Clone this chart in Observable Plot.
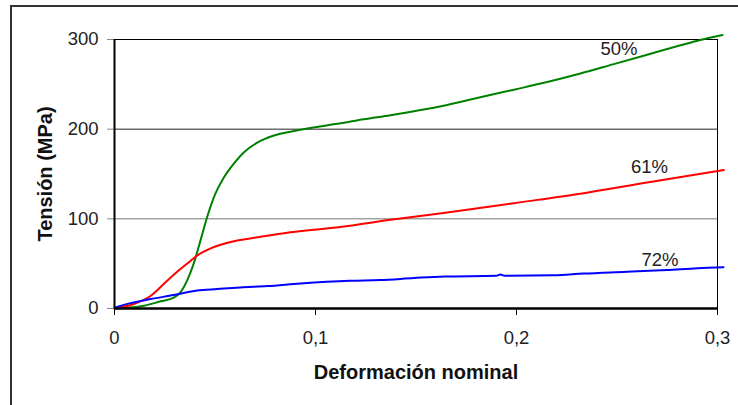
<!DOCTYPE html>
<html>
<head>
<meta charset="utf-8">
<script src="https://cdn.jsdelivr.net/npm/d3@7"></script>
<script src="https://cdn.jsdelivr.net/npm/@observablehq/plot@0.6"></script>
<style>
  html, body { margin: 0; padding: 0; background: #fff; overflow: hidden; }
  #wrap { position: relative; width: 738px; height: 405px; overflow: hidden; }
  #border { position: absolute; left: 10px; top: 5px; width: 800px; height: 500px; border: 2px solid #333; box-sizing: border-box; }
  #chart { position: absolute; left: 0; top: 0; }
</style>
</head>
<body>
<div id="wrap"><div id="border"></div><div id="chart"></div></div>
<script>
// Series 50% (green)
const strain50 = [0, 0.008, 0.0146, 0.0229, 0.0295, 0.0328, 0.0361, 0.0394, 0.0428, 0.0461, 0.0502, 0.0544, 0.0585, 0.0643, 0.071, 0.0793, 0.0892, 0.0992, 0.1124, 0.124, 0.1373, 0.149, 0.1655, 0.182, 0.1987, 0.2153, 0.2318, 0.2484, 0.265, 0.2816, 0.2915, 0.3025];
const stress50 = [0, 1, 3, 8, 12, 18, 31, 50, 76, 102, 128, 146, 159, 174, 185, 193, 198, 202, 206.5, 211, 215.5, 220, 227, 235.6, 244, 252.5, 262, 272.5, 283, 293.5, 299.5, 305];
// Series 61% (red)
const strain61 = [0, 0.0096, 0.0179, 0.0262, 0.0328, 0.0378, 0.0411, 0.0478, 0.0594, 0.0726, 0.0876, 0.1124, 0.1373, 0.1655, 0.1987, 0.2318, 0.265, 0.3032];
const stress61 = [0, 5, 14, 31, 44, 53, 59, 67, 75, 80, 85, 91, 99, 107, 117.5, 128, 140.5, 154.5];
// Series 72% (blue)
const strain72 = [0, 0.008, 0.0179, 0.0295, 0.0411, 0.0511, 0.0627, 0.076, 0.0925, 0.117, 0.1323, 0.149, 0.164, 0.19, 0.192, 0.194, 0.2184, 0.2335, 0.255, 0.275, 0.29, 0.303];
const stress72 = [1, 6, 10.5, 15, 20, 21.7, 23.5, 25, 28, 31, 31.7, 34, 35.7, 36.5, 38, 36.5, 37, 39, 41, 43, 45, 46];

const seriesNames = ["50%", "61%", "72%"];
const seriesColors = ["#008000", "#ff0000", "#0000ff"];
const labelX = [0.251, 0.2662, 0.2714];
const labelY = [289, 158, 54.4];

const xTicks = [0, 0.1, 0.2, 0.3];
const yTicks = [0, 100, 200, 300];
const xTitle = "Deformación nominal";
const yTitle = "Tensión (MPa)";

const strains = [strain50, strain61, strain72];
const stresses = [stress50, stress61, stress72];
const data = seriesNames.flatMap((s, i) => strains[i].map((x, j) => ({series: s, x, y: stresses[i][j]})));
const labels = seriesNames.map((s, i) => ({series: s, x: labelX[i], y: labelY[i]}));

const font = "'Liberation Sans', Arial, sans-serif";
const fmt = d => String(d).replace(".", ",");

const chart = Plot.plot({
  width: 738,
  height: 405,
  marginLeft: 114,
  marginRight: 21,
  marginTop: 39,
  marginBottom: 97,
  style: {fontFamily: font, fontSize: "18.5px", color: "#222", background: "transparent", overflow: "visible"},
  x: {domain: [0, 0.3]},
  y: {domain: [0, 300]},
  color: {domain: seriesNames, range: seriesColors},
  marks: [
    Plot.ruleY([100], {stroke: "#777", strokeWidth: 1}),
    Plot.ruleY([200], {stroke: "#222", strokeWidth: 1}),
    Plot.ruleY([300], {stroke: "#000", strokeWidth: 1}),
    Plot.ruleX([0.3], {stroke: "#000", strokeWidth: 1}),
    Plot.axisY({ticks: yTicks, tickSize: 7, tickPadding: 9, stroke: "#888", tickFormat: fmt, label: null, fontSize: "18.5px"}),
    Plot.axisX({ticks: xTicks, tickSize: 7, tickPadding: 15, stroke: "#000", tickFormat: fmt, label: null, fontSize: "18.5px"}),
    Plot.line(data, {x: "x", y: "y", z: "series", stroke: "series", strokeWidth: 2, curve: "monotone-x", clip: false}),
    Plot.ruleX([0], {stroke: "#000", strokeWidth: 2}),
    Plot.ruleY([0], {stroke: "#000", strokeWidth: 2.5}),
    Plot.text(labels, {x: "x", y: "y", text: "series", fill: "#222", fontSize: "18.5px"}),
    Plot.text([yTitle], {frameAnchor: "left", textAnchor: "middle", lineAnchor: "middle", rotate: -90, dx: -69, fontWeight: "bold", fontSize: "20px", fill: "#111"}),
    Plot.text([xTitle], {frameAnchor: "bottom", textAnchor: "middle", lineAnchor: "middle", dy: 64, fontWeight: "bold", fontSize: "20px", fill: "#111"})
  ]
});
document.getElementById("chart").appendChild(chart);
</script>
</body>
</html>
